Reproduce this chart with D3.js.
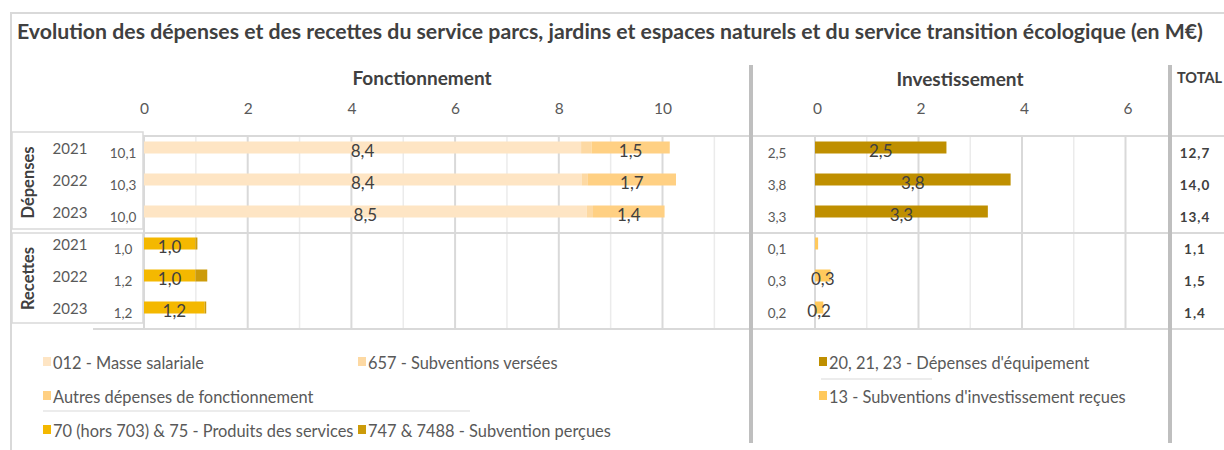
<!DOCTYPE html>
<html lang="fr">
<head>
<meta charset="utf-8">
<script src="https://cdn.jsdelivr.net/npm/d3@7"></script>
<style>
  html, body { margin: 0; padding: 0; background: #fff; }
  svg { display: block; font-family: Lato, "Open Sans", sans-serif; }
</style>
</head>
<body>
<svg id="chart" width="1224" height="450"></svg>
<script>
// ---- Données (M€) ----
const years = ["2021", "2022", "2023"];
const groups = ["Dépenses", "Recettes"];

// Fonctionnement – dépenses
const masseSalariale     = [8.43, 8.44, 8.54];
const subventionsVersees = [0.20, 0.12, 0.12];
const autresDepenses     = [1.51, 1.70, 1.38];
// Fonctionnement – recettes
const produitsServices   = [0.99, 0.99, 1.17];
const subventionsPercues = [0.04, 0.23, 0.03];
// Investissement
const depensesEquipement = [2.54, 3.78, 3.34];
const subventionsInvest  = [0.06, 0.30, 0.16];

const fonctTicks  = [0, 2, 4, 6, 8, 10];
const investTicks = [0, 2, 4, 6];

const title = "Evolution des dépenses et des recettes du service parcs, jardins et espaces naturels et du service transition écologique (en M€)";

// ---- Styles ----
const C = {
  masse: "#FEE5C4", verse: "#FDD9A3", autres: "#FFD083",
  produits: "#F4B800", percues: "#CC9B0A",
  equip: "#BF8F00", subInv: "#FFC95C",
  grid: "#D9D9D9", gridMinor: "#EBEBEB", sep: "#BFBFBF",
  text: "#595959", dark: "#404040"
};
const fmt = v => d3.format(".1f")(v).replace(".", ",");

const svg = d3.select("#chart");

// Rows: 3 years of dépenses then 3 years of recettes
const rowKeys = [];
groups.forEach(g => years.forEach(y => rowKeys.push(g + "-" + y)));
const yRow = d3.scaleBand().domain(rowKeys).range([131.5, 323.5]);
const barH = 12;
const yc = k => yRow(k) + yRow.bandwidth() / 2;

const xF = d3.scaleLinear().domain([0, 10]).range([144, 662.5]);
const xI = d3.scaleLinear().domain([0, 6]).range([815, 1125.5]);

// ---- Frame ----
svg.append("line").attr("x1", 11).attr("x2", 11).attr("y1", 12).attr("y2", 450)
  .attr("stroke", C.grid).attr("stroke-width", 2);
svg.append("line").attr("x1", 10).attr("x2", 1224).attr("y1", 13).attr("y2", 13)
  .attr("stroke", C.grid).attr("stroke-width", 2);

// Title, fitted to its width
const t = svg.append("text").attr("x", 17).attr("y", 39)
  .attr("font-weight", 700).attr("font-size", 17).attr("fill", C.dark).text(title);
(function fit(sel, target) {
  const w = sel.node().getComputedTextLength();
  sel.attr("font-size", 17 * target / w);
})(t, 1186);

// ---- Grid ----
const gTop = 136, gBot = 329;
const grid = svg.append("g");
d3.range(0, 12).forEach(i => {
  grid.append("line").attr("x1", xF(i)).attr("x2", xF(i)).attr("y1", gTop).attr("y2", gBot)
    .attr("stroke", i % 2 === 0 ? C.grid : C.gridMinor).attr("stroke-width", i % 2 === 0 ? 2 : 1.5);
});
d3.range(0, 7).forEach(i => {
  grid.append("line").attr("x1", xI(i)).attr("x2", xI(i)).attr("y1", gTop).attr("y2", gBot)
    .attr("stroke", i % 2 === 0 ? C.grid : C.gridMinor).attr("stroke-width", i % 2 === 0 ? 2 : 1.5);
});
[[143, gTop], [143, 233], [93, gBot]].forEach(([x0, y]) => {
  grid.append("line").attr("x1", x0).attr("x2", 1224).attr("y1", y).attr("y2", y)
    .attr("stroke", C.grid).attr("stroke-width", 2);
});

// Row-label boxes
[[132, 229], [233, 323]].forEach(([y0, y1]) => {
  svg.append("rect").attr("x", 12).attr("y", y0).attr("width", 131).attr("height", y1 - y0)
    .attr("fill", "none").attr("stroke", C.grid).attr("stroke-width", 1.5);
});

// Thick separators
[751, 1170].forEach(x => {
  svg.append("line").attr("x1", x).attr("x2", x).attr("y1", 65).attr("y2", 443)
    .attr("stroke", C.sep).attr("stroke-width", 4);
});

// ---- Headers and axes ----
const head = (x, y, txt, size, anchor) => svg.append("text").attr("x", x).attr("y", y)
  .attr("text-anchor", anchor || "middle").attr("font-weight", 700).attr("font-size", size)
  .attr("fill", C.dark).text(txt);
head(422, 85, "Fonctionnement", 19);
head(960, 86, "Investissement", 19);
head(1177, 83, "TOTAL", 14.5, "start");

const axF = d3.axisTop(xF).tickValues(fonctTicks).tickSize(0).tickPadding(0).tickFormat(d => d);
const axI = d3.axisTop(xI).tickValues(investTicks).tickSize(0).tickPadding(0).tickFormat(d => d);
[[axF, 0], [axI, 2]].forEach(([ax, dx]) => {
  const g = svg.append("g").attr("transform", `translate(${dx},114)`).call(ax);
  g.select(".domain").remove();
  g.selectAll("text").attr("font-size", 15.5).attr("fill", C.text).attr("font-family", "Lato, sans-serif");
});

// ---- Stacked bars ----
function stackRow(key, segs, x) {
  let acc = 0;
  segs.forEach(s => {
    const x0 = x(acc), x1 = x(acc + s.v);
    svg.append("rect").attr("x", x0).attr("y", yc(key) - barH / 2)
      .attr("width", Math.max(0, x1 - x0)).attr("height", barH).attr("fill", s.c);
    if (s.label) {
      svg.append("text").attr("x", (x0 + x1) / 2).attr("y", yc(key) + 3)
        .attr("text-anchor", "middle").attr("dominant-baseline", "central")
        .attr("font-size", 17).attr("fill", C.dark).text(fmt(s.v));
    }
    acc += s.v;
  });
  return acc;
}

years.forEach((yr, i) => {
  const kD = "Dépenses-" + yr, kR = "Recettes-" + yr;
  const fD = stackRow(kD, [
    { v: masseSalariale[i], c: C.masse, label: true },
    { v: subventionsVersees[i], c: C.verse },
    { v: autresDepenses[i], c: C.autres, label: true }
  ], xF);
  const fR = stackRow(kR, [
    { v: produitsServices[i], c: C.produits, label: true },
    { v: subventionsPercues[i], c: C.percues }
  ], xF);
  const iD = stackRow(kD, [{ v: depensesEquipement[i], c: C.equip, label: true }], xI);
  const iR = stackRow(kR, [{ v: subventionsInvest[i], c: C.subInv, label: subventionsInvest[i] >= 0.1 }], xI);

  // Year and totals columns
  [[kD, fD, iD], [kR, fR, iR]].forEach(([k, f, inv]) => {
    svg.append("text").attr("x", 70).attr("y", yc(k)).attr("text-anchor", "middle")
      .attr("dominant-baseline", "central").attr("font-size", 15).attr("fill", C.text).text(yr);
    svg.append("text").attr("x", 123).attr("y", yc(k) + 5).attr("text-anchor", "middle")
      .attr("dominant-baseline", "central").attr("font-size", 13.5).attr("fill", C.text).text(fmt(f));
    svg.append("text").attr("x", 777).attr("y", yc(k) + 5).attr("text-anchor", "middle")
      .attr("dominant-baseline", "central").attr("font-size", 13.5).attr("fill", C.text).text(fmt(inv));
    svg.append("text").attr("x", 1195).attr("y", yc(k) + 5).attr("text-anchor", "middle")
      .attr("dominant-baseline", "central").attr("font-size", 13.5).attr("font-weight", 700)
      .attr("letter-spacing", 1).attr("fill", C.dark).text(fmt(f + inv));
  });
});

// Group labels (rotated)
groups.forEach(g => {
  const ks = years.map(y => g + "-" + y);
  const cy = (yc(ks[0]) + yc(ks[2])) / 2 + 3;
  svg.append("text").attr("transform", `translate(28,${cy}) rotate(-90)`)
    .attr("text-anchor", "middle").attr("dominant-baseline", "central")
    .attr("font-size", 16.5).attr("font-weight", 700).attr("fill", C.dark).text(g);
});

// ---- Legend ----
const legend = [
  { x: 43, y: 362, c: C.masse, t: "012 - Masse salariale" },
  { x: 358, y: 362, c: C.verse, t: "657 - Subventions versées" },
  { x: 43, y: 396, c: C.autres, t: "Autres dépenses de fonctionnement" },
  { x: 43, y: 430, c: C.produits, t: "70 (hors 703) & 75 - Produits des services" },
  { x: 358, y: 430, c: C.percues, t: "747 & 7488 - Subvention perçues" },
  { x: 819, y: 362, c: C.equip, t: "20, 21, 23 - Dépenses d'équipement" },
  { x: 819, y: 396, c: C.subInv, t: "13 - Subventions d'investissement reçues" }
];
legend.forEach(d => {
  svg.append("rect").attr("x", d.x).attr("y", d.y - 5).attr("width", 8).attr("height", 9).attr("fill", d.c);
  svg.append("text").attr("x", d.x + 10).attr("y", d.y).attr("dominant-baseline", "central")
    .attr("font-size", 16.4).attr("fill", C.text).text(d.t);
});
svg.append("line").attr("x1", 43).attr("x2", 470).attr("y1", 411).attr("y2", 411)
  .attr("stroke", C.grid).attr("stroke-width", 1);
svg.append("line").attr("x1", 821).attr("x2", 932).attr("y1", 379).attr("y2", 379)
  .attr("stroke", C.grid).attr("stroke-width", 1);
</script>
</body>
</html>
